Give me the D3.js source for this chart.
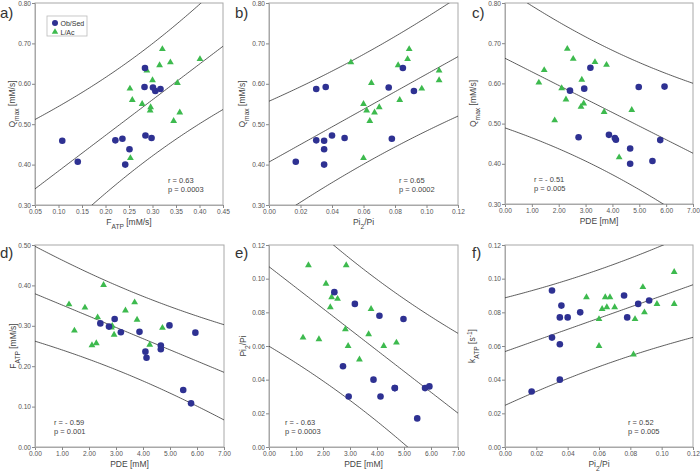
<!DOCTYPE html>
<html><head><meta charset="utf-8">
<script src="https://cdn.jsdelivr.net/npm/d3@7"></script>
<style>
body{margin:0;background:#fff;}
text{font-family:"Liberation Sans",Arial,sans-serif;}
</style></head>
<body><svg id="c" width="700" height="472"></svg>
<script>
// subjects: 13 Ob/Sed followed by 15 L/Ac
const groups = ["ob","ob","ob","ob","ob","ob","ob","ob","ob","ob","ob","ob","ob",
  "la","la","la","la","la","la","la","la","la","la","la","la","la","la","la"];
const qmax = [0.407,0.587,0.592,0.460,0.459,0.438,0.400,0.472,0.466,0.591,0.464,0.639,0.582,
  0.653,0.602,0.550,0.534,0.529,0.542,0.508,0.416,0.646,0.661,0.686,0.633,0.609,0.588,0.560];
const fatp = [0.141,0.317,0.283,0.221,0.108,0.251,0.242,0.285,0.298,0.301,0.236,0.284,0.306,
  0.338,0.353,0.278,0.295,0.358,0.296,0.345,0.253,0.315,0.401,0.321,0.288,0.300,0.252,0.257];
const pi2pi = [0.017,0.030,0.036,0.030,0.035,0.035,0.035,0.040,0.048,0.076,0.078,0.085,0.092,
  0.052,0.065,0.060,0.062,0.067,0.070,0.064,0.060,0.082,0.088,0.089,0.108,0.108,0.097,0.083];
const pde = [5.49,2.95,5.94,4.13,5.78,4.66,4.66,3.87,2.74,4.98,4.09,3.18,2.42,
  3.35,1.26,2.93,4.72,3.69,2.83,1.85,4.25,3.78,2.54,2.32,1.46,2.86,2.11,2.27];
const katp = [0.033,0.093,0.084,0.065,0.040,0.077,0.061,0.077,0.080,0.090,0.077,0.085,0.087,
  0.089,0.083,0.076,0.082,0.089,0.083,0.089,0.060,0.055,0.095,0.080,0.085,0.104,0.085,0.076];
const legendLabels = ["Ob/Sed","L/Ac"];
const panelLetters = ["a)","b)","c)","d)","e)","f)"];
const rTexts = ["r = 0.63","r = 0.65","r =  - 0.51","r = - 0.59","r = - 0.63","r = 0.52"];
const pTexts = ["p = 0.0003","p = 0.0002","p = 0.005","p = 0.001","p = 0.0003","p = 0.005"];
const xTicksQ = [0.05,0.10,0.15,0.20,0.25,0.30,0.35,0.40,0.45];
const xTicksPi = [0,0.02,0.04,0.06,0.08,0.10,0.12];
const xTicksPDE = [0,1,2,3,4,5,6,7];
const yTicksQ = [0.30,0.40,0.50,0.60,0.70,0.80];
const yTicksF = [0,0.10,0.20,0.30,0.40,0.50];
const yTicksPi = [0,0.02,0.04,0.06,0.08,0.10,0.12];
const T95 = 2.0555; // t quantile, df = 26

const BLUE = "#2e3192", GREEN = "#3dba4e", FRAME = "#a8a8a8";
const svg = d3.select("#c");

const panels = [
  {x:fatp, y:qmax, xd:[0.05,0.45], yd:[0.30,0.80], xt:xTicksQ, yt:yTicksQ,
   box:[35,223,3,205], xl:[["F",""],["ATP","sub"],[" [mM/s]",""]], yl:[["Q",""],["max","sub"],[" [mM/s]",""]],
   ylx:15, lab:[0,18], st:[168,"r"], legend:true},
  {x:pi2pi, y:qmax, xd:[0,0.12], yd:[0.30,0.80], xt:xTicksPi, yt:yTicksQ,
   box:[269,458,3,205], xl:[["Pi",""],["2","sub"],["/Pi",""]], yl:[["Q",""],["max","sub"],[" [mM/s]",""]],
   ylx:245, lab:[235,18], st:[399,"r"]},
  {x:pde, y:qmax, xd:[0,7], yd:[0.30,0.80], xt:xTicksPDE, yt:yTicksQ,
   box:[505,693,3,204], xl:[["PDE [mM]",""]], yl:[["Q",""],["max","sub"],[" [mM/s]",""]],
   ylx:476, lab:[472,18], st:[534,"l"]},
  {x:pde, y:fatp, xd:[0,7], yd:[0,0.50], xt:xTicksPDE, yt:yTicksF,
   box:[35,224,245,447], xl:[["PDE [mM]",""]], yl:[["F",""],["ATP","sub"],[" [mM/s]",""]],
   ylx:16, lab:[0,258], st:[54,"l"]},
  {x:pde, y:pi2pi, xd:[0,7], yd:[0,0.12], xt:xTicksPDE, yt:yTicksPi,
   box:[269,458,245,447], xl:[["PDE [mM]",""]], yl:[["Pi",""],["2","sub"],["/Pi",""]],
   ylx:246, lab:[235,258], st:[285,"l"]},
  {x:pi2pi, y:katp, xd:[0,0.12], yd:[0,0.12], xt:xTicksPi, yt:yTicksPi,
   box:[505,693,245,447], xl:[["Pi",""],["2","sub"],["/Pi",""]], yl:[["k",""],["ATP","sub"],[" [s",""],["-1","sup"],["]",""]],
   ylx:475, lab:[472,258], st:[628,"r"]}
];

function fit(xs, ys){
  const n = xs.length, mx = d3.mean(xs), my = d3.mean(ys);
  let sxx=0, sxy=0;
  for(let i=0;i<n;i++){ sxx += (xs[i]-mx)**2; sxy += (xs[i]-mx)*(ys[i]-my); }
  const b = sxy/sxx, a = my - b*mx;
  let sse = 0;
  for(let i=0;i<n;i++){ sse += (ys[i]-a-b*xs[i])**2; }
  const s = Math.sqrt(sse/(n-2));
  return {a,b,pred:x=>a+b*x, half:x=>T95*s*Math.sqrt(1+1/n+(x-mx)**2/sxx)};
}

function richText(g, parts, size){
  parts.forEach(([t,k])=>{
    const ts = g.append("tspan").text(t);
    if(k==="sub"){ ts.attr("font-size", size*0.78).attr("baseline-shift","sub"); }
    else if(k==="sup"){ ts.attr("font-size", size*0.78).attr("baseline-shift","super"); }
  });
}

const fmt2 = d3.format(".2f");

panels.forEach((p,i)=>{
  const [L,R,T,B] = p.box;
  const xs = d3.scaleLinear().domain(p.xd).range([L,R]);
  const ys = d3.scaleLinear().domain(p.yd).range([B,T]);
  const g = svg.append("g");

  // clip
  const cid = "clip"+i;
  svg.append("clipPath").attr("id",cid).append("rect").attr("x",L).attr("y",T).attr("width",R-L).attr("height",B-T);

  // frame
  g.append("rect").attr("x",L).attr("y",T).attr("width",R-L).attr("height",B-T)
    .attr("fill","none").attr("stroke",FRAME).attr("stroke-width",1);

  // axes
  const ax = g.append("g").attr("transform",`translate(0,${B})`)
    .call(d3.axisBottom(xs).tickValues(p.xt).tickFormat(fmt2).tickSize(3).tickPadding(1));
  const ay = g.append("g").attr("transform",`translate(${L},0)`)
    .call(d3.axisLeft(ys).tickValues(p.yt).tickFormat(fmt2).tickSize(3).tickPadding(1));
  [ax,ay].forEach(a=>{
    a.select(".domain").attr("stroke",FRAME);
    a.selectAll(".tick line").attr("stroke","#888");
    a.selectAll(".tick text").attr("font-size",6.6).attr("fill","#555")
      .attr("font-family","'Liberation Sans',Arial,sans-serif");
  });

  // axis titles
  const xt = g.append("text").attr("x",(L+R)/2).attr("y",B+20).attr("text-anchor","middle")
    .attr("font-size",8.5).attr("fill","#444");
  richText(xt, p.xl, 8.5);
  const yt = g.append("text").attr("transform",`translate(${p.ylx},${(T+B)/2}) rotate(-90)`)
    .attr("text-anchor","middle").attr("font-size",8.5).attr("fill","#444");
  richText(yt, p.yl, 8.5);

  // panel letter
  g.append("text").attr("x",p.lab[0]).attr("y",p.lab[1]).attr("font-size",15).attr("fill","#333").text(panelLetters[i]);

  // regression + prediction interval
  const f = fit(p.x, p.y);
  const grid = d3.range(0,101).map(k=>p.xd[0]+(p.xd[1]-p.xd[0])*k/100);
  const lg = g.append("g").attr("clip-path",`url(#${cid})`);
  const line = d3.line().x(d=>xs(d[0])).y(d=>ys(d[1]));
  [0,1,-1].forEach(sgn=>{
    lg.append("path").attr("d", line(grid.map(x=>[x, f.pred(x)+sgn*f.half(x)])))
      .attr("fill","none").attr("stroke","#333").attr("stroke-width",0.8);
  });

  // points
  const idx = d3.range(p.x.length);
  const pg = g.append("g").attr("clip-path",`url(#${cid})`);
  pg.selectAll("path.tri").data(idx.filter(k=>groups[k]==="la")).join("path")
    .attr("d", d3.symbol().type(d3.symbolTriangle).size(20))
    .attr("transform",k=>`translate(${xs(p.x[k])},${ys(p.y[k])})`).attr("fill",GREEN);
  pg.selectAll("circle").data(idx.filter(k=>groups[k]==="ob")).join("circle")
    .attr("cx",k=>xs(p.x[k])).attr("cy",k=>ys(p.y[k])).attr("r",3.3).attr("fill",BLUE);

  // stats text
  const sx = p.st[0], sy = B-22;
  g.append("text").attr("x",sx).attr("y",sy).attr("font-size",7.5).attr("fill","#444").text(rTexts[i]);
  g.append("text").attr("x",sx).attr("y",sy+9).attr("font-size",7.5).attr("fill","#444").text(pTexts[i]);

  // legend
  if(p.legend){
    const lgd = g.append("g");
    lgd.append("rect").attr("x",47).attr("y",16).attr("width",40).attr("height",20)
      .attr("fill","#fff").attr("stroke","#bbb").attr("stroke-width",0.8);
    lgd.append("circle").attr("cx",55).attr("cy",23).attr("r",3).attr("fill",BLUE);
    lgd.append("path").attr("d",d3.symbol().type(d3.symbolTriangle).size(18)).attr("transform","translate(55,32)").attr("fill",GREEN);
    lgd.append("text").attr("x",60.5).attr("y",25.5).attr("font-size",7).attr("fill","#333").text(legendLabels[0]);
    lgd.append("text").attr("x",60.5).attr("y",34.5).attr("font-size",7).attr("fill","#333").text(legendLabels[1]);
  }
});
</script></body></html>
